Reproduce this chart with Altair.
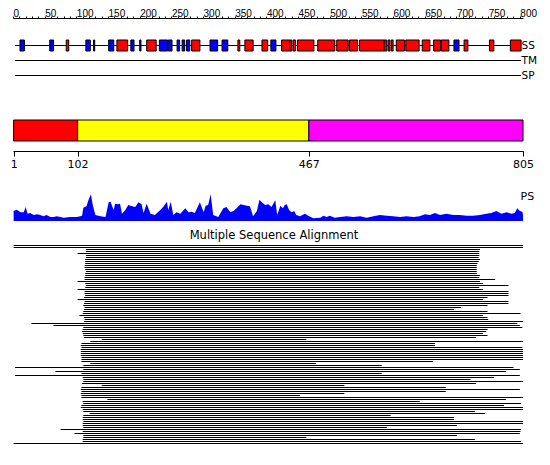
import altair as alt
import pandas as pd

# ---------------- data ----------------
ruler_ticks = list(range(0, 801, 10))

track_names = ["SS", "TM", "SP"]
track_start = [3, 3, 3]
track_end = [802, 802, 802]

ss_start = [11, 58, 84, 115, 127, 151, 164, 186, 200, 211, 231, 245, 259, 267, 274, 282,
            311, 330, 355, 366, 393, 407, 424, 437, 442, 449, 481, 511, 531, 547, 586, 592,
            597, 605, 620, 646, 664, 676, 696, 712, 752, 785]
ss_end = [18, 64, 88, 122, 129, 159, 181, 191, 202, 226, 244, 251, 263, 271, 279, 295,
          323, 339, 358, 379, 402, 415, 437, 440, 446, 475, 508, 529, 544, 586, 590, 595,
          600, 618, 641, 658, 675, 688, 704, 718, 759, 802]
ss_type = ["E", "E", "H", "E", "E", "E", "H", "E", "E", "H", "E", "E", "E", "E", "E", "H",
           "E", "E", "H", "H", "H", "E", "H", "H", "H", "H", "H", "H", "H", "H", "H", "H",
           "H", "H", "H", "H", "H", "H", "E", "H", "H", "H"]

dom_names = ["D1", "D2", "D3"]
dom_start = [1, 102, 467]
dom_end = [102, 467, 805]
dom_ticks = [1, 102, 467, 805]

ps_pos = [1, 6, 12, 17, 20, 23, 27, 33, 38, 43, 48, 53, 59, 64, 69, 75, 80, 90, 101, 109,
          111, 116, 119, 123, 126, 130, 138, 146, 151, 154, 159, 161, 165, 169, 172, 177,
          182, 188, 193, 198, 203, 206, 211, 217, 224, 232, 237, 243, 245, 249, 253, 258,
          264, 272, 277, 282, 287, 295, 301, 304, 308, 312, 316, 324, 332, 337, 343, 348,
          353, 359, 364, 369, 374, 379, 385, 389, 392, 398, 403, 408, 414, 417, 422, 426,
          429, 432, 436, 440, 444, 447, 453, 461, 466, 474, 485, 490, 495, 500, 508, 516,
          527, 537, 548, 558, 569, 579, 590, 600, 611, 621, 632, 642, 650, 658, 666, 674,
          684, 695, 705, 716, 726, 737, 747, 755, 763, 771, 779, 787, 792, 796, 800, 804, 805]
ps_val = [10, 11.3, 8.7, 8.7, 14, 7.3, 8, 6, 6.7, 6, 4.7, 6, 4, 4, 4.7, 4, 3.3, 4, 4, 5.3,
          13.3, 14.7, 20.7, 26.7, 15.7, 6, 4.7, 4, 18.7, 19.3, 10.7, 17.3, 16.7, 17.3, 7.3, 10.7,
          16, 14.7, 14, 18.7, 16.7, 8, 17.3, 7.3, 6, 10.7, 14, 19.3, 10.7, 19.3, 6, 8.7,
          7.3, 12.7, 8.7, 9.3, 8, 18.7, 8.7, 15.3, 16, 26.7, 6, 4, 12.7, 14, 8.7, 10,
          12.7, 16.7, 16, 15.3, 14.7, 4.7, 10, 21.3, 19.3, 16, 16.7, 14, 20.7, 6, 15.3, 12.7,
          16, 16.7, 10.7, 8.7, 10, 6, 4.7, 7.3, 5.3, 2.7, 3.3, 5.3, 4, 5.3, 3.3, 4,
          4.7, 4, 4.7, 3.3, 4.7, 6, 5.3, 4.7, 4, 4.7, 4, 4.7, 6.7, 6, 8, 6,
          7.3, 6, 6, 5.3, 5.3, 6, 7.3, 8, 10, 7.3, 8.7, 7.3, 8, 12.7, 10, 9.3, 6]

msa_start = [1, 1, 115, 115, 102, 115, 115, 114, 114, 114, 113, 113, 114, 115, 114, 114, 113, 113, 102, 114,
             115, 114, 102, 113, 113, 114, 112, 102, 113, 112, 111, 113, 112, 111, 110, 105, 112, 113, 112, 29,
             64, 111, 110, 109, 110, 111, 112, 140, 122, 108, 107, 108, 107, 107, 107, 107, 108, 108, 108, 122,
             111, 3, 111, 67, 108, 3, 110, 111, 111, 109, 140, 108, 107, 108, 107, 108, 108, 149, 110, 111,
             108, 107, 110, 111, 121, 111, 110, 110, 111, 110, 110, 111, 75, 110, 97, 111, 111, 110, 110, 1]
msa_end = [805, 805, 737, 736, 736, 736, 735, 737, 735, 733, 732, 732, 732, 732, 732, 737, 736, 761, 737, 742,
           782, 736, 742, 782, 782, 782, 749, 742, 782, 782, 749, 707, 696, 749, 801, 742, 749, 750, 805, 796,
           800, 804, 749, 747, 742, 749, 731, 463, 805, 666, 666, 804, 805, 805, 805, 805, 805, 805, 663, 478,
           582, 790, 800, 778, 582, 800, 759, 722, 805, 731, 523, 683, 800, 683, 523, 453, 805, 778, 642, 802,
           775, 805, 805, 729, 745, 596, 696, 696, 805, 805, 701, 590, 802, 801, 800, 701, 463, 729, 802, 805]

# ---------------- layout constants ----------------
W = 510
FONT = "DejaVu Sans"
RULER_FONT = "Liberation Sans Narrow, Liberation Sans"
T1 = 18          # top of first panel (page px): 8 margin + 10 ruler extent
H1 = 120 - T1
H2 = 21
H3 = 104
H4 = 200

x_scale = alt.Scale(domain=[0, 805], nice=False, zero=False)

# ---------------- panel 1: ruler + SS/TM/SP ----------------
tracks = pd.DataFrame({"track": track_names, "start": track_start, "end": track_end})
ss = pd.DataFrame({"start": ss_start, "end": ss_end, "type": ss_type, "track": "SS"})

track_scale = alt.Scale(type="point", domain=track_names, padding=0,
                        range=[45.5 - T1, 75.5 - T1])
track_axis = alt.Axis(orient="right", title=None, domain=False, ticks=False, tickSize=0,
                      labelPadding=-2, labelFontSize=10.5, labelFont=FONT,
                      labelColor="black", grid=False, labelOverlap=False)

ruler_axis = alt.Axis(orient="top", values=ruler_ticks,
                      labelExpr="datum.value % 50 == 0 ? datum.label : ''",
                      labelAlign="left", labelBaseline="alphabetic", tickSize=2, labelPadding=0,
                      labelFontSize=10, labelFont=RULER_FONT, labelColor="black",
                      domainColor="black", tickColor="black", grid=False, title=None,
                      labelFlush=False, labelOverlap=False, labelBound=False, format="d")

rules = alt.Chart(tracks).mark_rule(color="black", strokeWidth=1).encode(
    x=alt.X("start:Q", scale=x_scale, axis=ruler_axis),
    x2="end:Q",
    y=alt.Y("track:N", scale=track_scale, axis=track_axis),
)
boxes = alt.Chart(ss).mark_bar(height=11, stroke="black", strokeWidth=1).encode(
    x=alt.X("start:Q", scale=x_scale, axis=ruler_axis),
    x2="end:Q",
    y=alt.Y("track:N", scale=track_scale, axis=track_axis),
    color=alt.Color("type:N", scale=alt.Scale(domain=["H", "E"], range=["#ff0000", "#0000ff"]),
                    legend=None),
)
panel1 = alt.layer(rules, boxes).properties(width=W, height=H1)

# ---------------- panel 2: domains ----------------
dom = pd.DataFrame({"domain": dom_names, "start": dom_start, "end": dom_end})
panel2 = alt.Chart(dom).mark_rect(stroke="black", strokeWidth=1).encode(
    x=alt.X("start:Q", scale=x_scale,
            axis=alt.Axis(orient="bottom", values=dom_ticks, offset=10, tickSize=5,
                          labelPadding=2, labelFontSize=11, labelFont=FONT,
                          labelColor="black", domainColor="black", tickColor="black",
                          grid=False, title=None, labelFlush=False, labelOverlap=False,
                          format="d")),
    x2="end:Q",
    color=alt.Color("domain:N",
                    scale=alt.Scale(domain=dom_names, range=["#ff0000", "#ffff00", "#ff00ff"]),
                    legend=None),
).properties(width=W, height=H2)

# ---------------- panel 3: PS profile ----------------
ps = pd.DataFrame({"pos": ps_pos, "score": ps_val})
panel3 = alt.Chart(ps).mark_area(color="#0000ff", interpolate="linear").encode(
    x=alt.X("pos:Q", scale=x_scale, axis=None),
    y=alt.Y("score:Q", scale=alt.Scale(domain=[0, 28], range=[221 - 141, 193 - 141]),
            axis=alt.Axis(orient="right", title="PS", titleAngle=0, titleAlign="left",
                          titleBaseline="middle", titleX=-3, titleY=196 - 141,
                          titleFont=FONT, titleFontSize=11, titleFontWeight="normal",
                          titleColor="black", labels=False, ticks=False, tickSize=0,
                          domain=False, grid=False)),
).properties(width=W, height=H3)

# ---------------- panel 4: MSA ----------------
msa = pd.DataFrame({"row": list(range(len(msa_start))), "start": msa_start, "end": msa_end})
panel4 = alt.Chart(msa).transform_calculate(row_end="datum.row + 0.5").mark_rect(color="black").encode(
    x=alt.X("start:Q", scale=x_scale, axis=None),
    x2="end:Q",
    y=alt.Y("row:Q", scale=alt.Scale(domain=[0, 100], range=[0, H4]), axis=None),
    y2="row_end:Q",
).properties(width=W, height=H4,
             title=alt.TitleParams("Multiple Sequence Alignment", font=FONT, fontSize=11.5,
                                   fontWeight="normal", color="black", anchor="middle",
                                   baseline="alphabetic", offset=7, dx=6, dy=12))

chart = alt.vconcat(panel1, panel2, panel3, panel4, spacing=0, bounds="flush").resolve_scale(
    color="independent", y="independent"
).properties(
    padding={"left": 2, "top": 0, "right": 0, "bottom": 0},
    background="white",
).configure_view(stroke=None)

chart.save("out.html", embed_options={"renderer": "svg", "actions": False})
